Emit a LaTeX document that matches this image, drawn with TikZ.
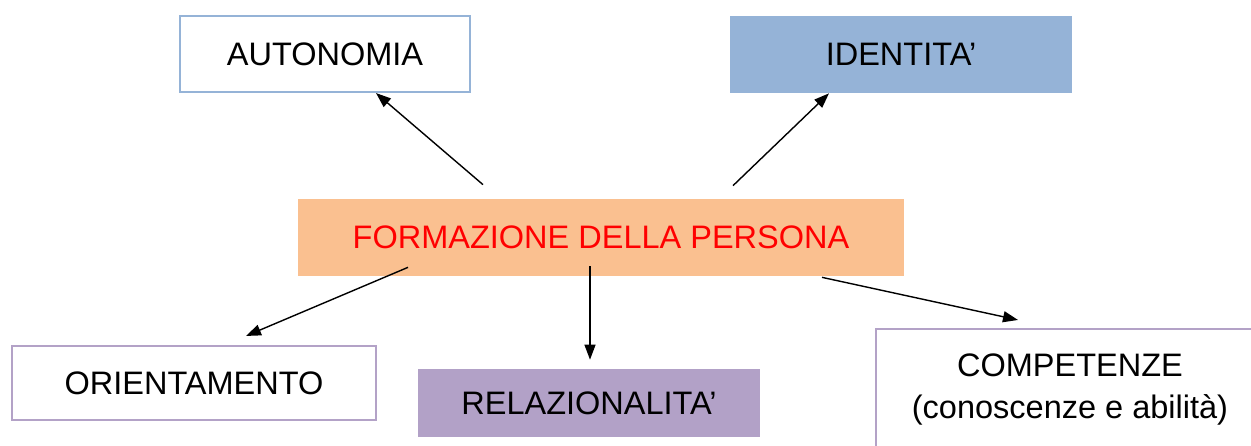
\documentclass[tikz,border=0pt]{standalone}
\usepackage{fontspec}
\setmainfont{Liberation Sans}
\usetikzlibrary{arrows.meta}
\definecolor{boxblue}{HTML}{95B3D7}
\definecolor{boxpeach}{HTML}{FAC090}
\definecolor{boxpurple}{HTML}{B2A1C7}
\definecolor{boxlilac}{HTML}{B3A2C7}

\begin{document}
\begin{tikzpicture}[x=0.02cm, y=-0.02cm, >={Triangle[length=3mm,width=2.2mm]},
  block/.style={rectangle, inner sep=0pt, align=center, font=\fontsize{18.5}{24}\selectfont},
  framed/.style={block, draw=#1, line width=1.2pt, fill=white},
  filled/.style={block, fill=#1},
  link/.style={->, line width=0.8pt}]
  \clip (0,0) rectangle (1251,446);

  \node[framed=boxblue, minimum width=5.8cm, minimum height=1.52cm] (autonomia) at (325,54) {AUTONOMIA};
  \node[filled=boxblue, minimum width=6.84cm, minimum height=1.54cm] (identita) at (901,54.5) {IDENTITA'};
  \node[filled=boxpeach, text=red, minimum width=12.12cm, minimum height=1.54cm] (formazione) at (601,237.5) {FORMAZIONE DELLA PERSONA};
  \node[framed=boxlilac, minimum width=7.28cm, minimum height=1.48cm] (orientamento) at (194,383) {ORIENTAMENTO};
  \node[filled=boxpurple, minimum width=6.84cm, minimum height=1.36cm] (relazionalita) at (589,403) {RELAZIONALITA'};
  \node[framed=boxlilac, minimum width=7.76cm, minimum height=2.42cm] (competenze) at (1070,389.5) {COMPETENZE\\(conoscenze e abilità)};

  \draw[link] ([shift={(-118,-14)}]formazione.north) -- ([shift={(51,0)}]autonomia.south);
  \draw[link] ([shift={(132,-13)}]formazione.north) -- ([shift={(-72,0)}]identita.south);
  \draw[link] ([shift={(-193,-9)}]formazione.south) -- ([shift={(52,-9)}]orientamento.north);
  \draw[link] ([shift={(-11,-10)}]formazione.south) -- ([shift={(1,-9)}]relazionalita.north);
  \draw[link] ([shift={(221,1)}]formazione.south) -- ([shift={(-52,-8)}]competenze.north);
\end{tikzpicture}
\end{document}
